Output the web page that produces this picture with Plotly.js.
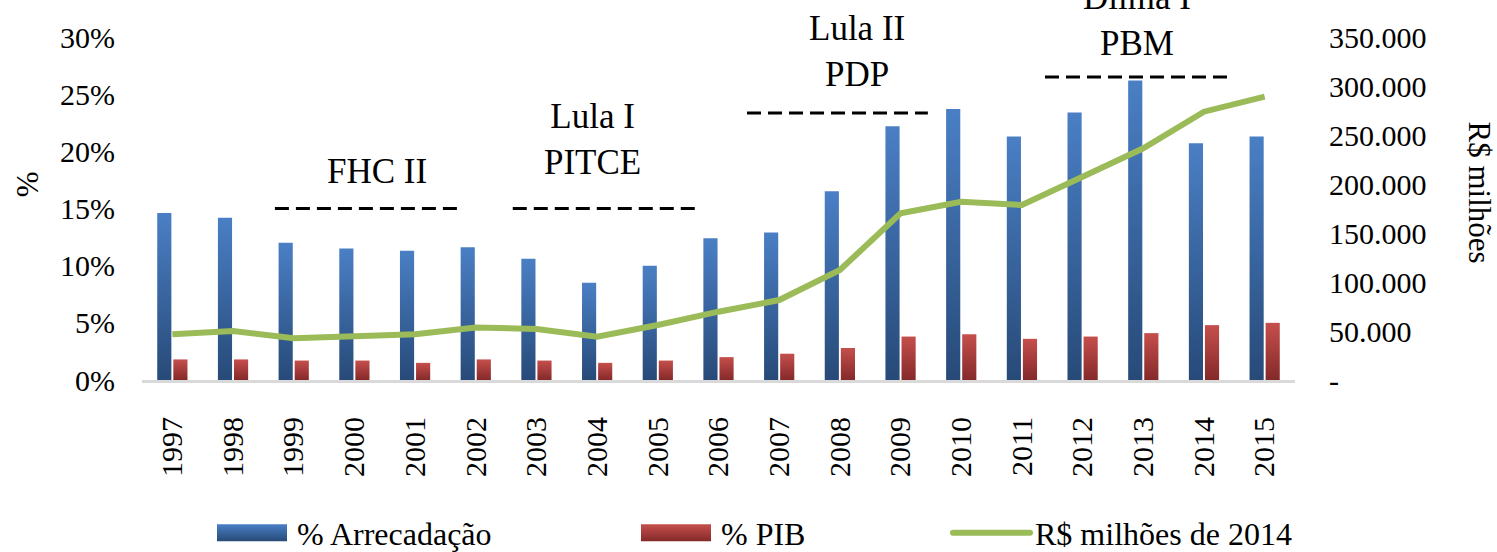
<!DOCTYPE html>
<html>
<head>
<meta charset="utf-8">
<script src="https://cdn.plot.ly/plotly-3.0.1.min.js"></script>
<style>
  html, body { margin: 0; padding: 0; background: #fff; }
  #chart { width: 1497px; height: 552px; }
</style>
</head>
<body>
<div id="chart"></div>
<script>
// ---- data ----
const years = ["1997","1998","1999","2000","2001","2002","2003","2004","2005","2006",
               "2007","2008","2009","2010","2011","2012","2013","2014","2015"];
const pctArrecadacao = [14.6, 14.2, 12.0, 11.5, 11.3, 11.6, 10.6, 8.5, 10.0, 12.4,
                        12.9, 16.5, 22.2, 23.7, 21.3, 23.4, 26.2, 20.7, 21.3];
const pctPIB = [1.8, 1.8, 1.7, 1.7, 1.5, 1.8, 1.7, 1.5, 1.7, 2.0,
                2.3, 2.8, 3.8, 4.0, 3.6, 3.8, 4.1, 4.8, 5.0];
const rsMilhoes = [46600, 50000, 42600, 44200, 46600, 53600, 52000, 44200, 56100, 69700,
                   81600, 112200, 170100, 181900, 178600, 207400, 236400, 273800, 289100];
const leftTicks = [0, 5, 10, 15, 20, 25, 30];
const leftTickText = ["0%", "5%", "10%", "15%", "20%", "25%", "30%"];
const rightTicks = [0, 50000, 100000, 150000, 200000, 250000, 300000, 350000];
const rightTickText = ["-", "50.000", "100.000", "150.000", "200.000", "250.000", "300.000", "350.000"];
// policy periods: label, start/end (category index), level (% axis)
const periodLabels = ["FHC II", "Lula I<br>PITCE", "Lula II<br>PDP", "Dilma I<br>PBM"];
const periodStart = [1.69, 5.61, 9.47, 14.38];
const periodEnd   = [4.69, 8.64, 12.45, 17.39];
const periodLevel = [15.0, 15.0, 23.35, 26.5];
const periodLabelX = [3.37, 6.93, 11.28, 15.9];
const periodLabelY = [18.2, 21.0, 28.7, 31.4];

const FONT = "Liberation Serif";
const PLOT_TOP = 37, PLOT_H = 343;

const traces = [
  { type: "bar", name: "% Arrecadação", x: years, y: pctArrecadacao,
    marker: { color: "#3A67A5" }, yaxis: "y", legend: "legend" },
  { type: "bar", name: "% PIB", x: years, y: pctPIB,
    marker: { color: "#A63C3A" }, yaxis: "y", legend: "legend2" },
  { type: "scatter", mode: "lines", name: "R$ milhões de 2014", x: years, y: rsMilhoes,
    yaxis: "y2", line: { color: "#9BBB59", width: 6 }, legend: "legend3" }
];

const shapes = periodStart.map((s, i) => ({
  type: "line", xref: "x", yref: "y", x0: s, x1: periodEnd[i], y0: periodLevel[i], y1: periodLevel[i],
  line: { color: "#000", width: 3, dash: "14px,7px" }
}));

// labels placed in paper coords (derived from % values) so the top one is not hidden
const annotations = periodLabels.map((t, i) => ({
  text: t, xref: "x", yref: "paper", x: periodLabelX[i], y: periodLabelY[i] / 30,
  showarrow: false, xanchor: "center", yanchor: "middle",
  font: { family: FONT, size: 35, color: "#000" }
}));
annotations.push({
  text: "%", xref: "paper", yref: "paper", x: -0.099, y: 0.57, showarrow: false,
  textangle: -90, xanchor: "center", yanchor: "middle",
  font: { family: FONT, size: 31, color: "#000" }
});
annotations.push({
  text: "R$ milhões", xref: "paper", yref: "paper", x: 1.160, y: 0.545, showarrow: false,
  textangle: 90, xanchor: "center", yanchor: "middle",
  font: { family: FONT, size: 31, color: "#000" }
});

function leg(px, iw) {
  return {
    orientation: "h", xref: "container", yref: "container",
    x: px / 1497, xanchor: "left", y: 1 - 533 / 552, yanchor: "middle",
    itemwidth: iw, bgcolor: "rgba(0,0,0,0)",
    font: { family: FONT, size: 32, color: "#000" }
  };
}

const layout = {
  width: 1497, height: 552,
  margin: { l: 142, r: 202, t: PLOT_TOP, b: 552 - PLOT_TOP - PLOT_H, autoexpand: false },
  paper_bgcolor: "#fff", plot_bgcolor: "#fff",
  font: { family: FONT, size: 30, color: "#000" },
  barmode: "group", bargap: 0.47, bargroupgap: 0.12,
  showlegend: true,
  legend: leg(207, 80),
  legend2: leg(631, 80),
  legend3: leg(943, 82),
  xaxis: {
    type: "category", showgrid: false, zeroline: false,
    showline: true, linecolor: "#d9d9d9", linewidth: 3,
    ticks: "", tickangle: -90, ticklabelstandoff: 22,
    tickfont: { family: FONT, size: 30, color: "#000" }
  },
  yaxis: {
    range: [0, 30], tickmode: "array", tickvals: leftTicks, ticktext: leftTickText,
    showgrid: false, zeroline: false, showline: false, ticks: "", ticklabelstandoff: 26,
    tickfont: { family: FONT, size: 30, color: "#000" }
  },
  yaxis2: {
    overlaying: "y", side: "right", range: [0, 350000], tickmode: "array",
    tickvals: rightTicks, ticktext: rightTickText,
    showgrid: false, zeroline: false, showline: false, ticks: "", ticklabelstandoff: 33,
    tickfont: { family: FONT, size: 30, color: "#000" }
  },
  shapes: shapes,
  annotations: annotations
};

const NS = "http://www.w3.org/2000/svg";
const grads = ["url(#gradBlue)", "url(#gradRed)"];

function ensureGradients(gd) {
  const svg = gd.querySelector(".main-svg");
  let defs = svg.querySelector("defs");
  if (!defs) { defs = document.createElementNS(NS, "defs"); svg.insertBefore(defs, svg.firstChild); }
  function addGrad(id, top, bottom) {
    if (document.getElementById(id)) return;
    const g = document.createElementNS(NS, "linearGradient");
    g.setAttribute("id", id);
    g.setAttribute("x1", "0"); g.setAttribute("y1", "0");
    g.setAttribute("x2", "0"); g.setAttribute("y2", "1");
    const s1 = document.createElementNS(NS, "stop");
    s1.setAttribute("offset", "0"); s1.setAttribute("stop-color", top);
    const s2 = document.createElementNS(NS, "stop");
    s2.setAttribute("offset", "1"); s2.setAttribute("stop-color", bottom);
    g.appendChild(s1); g.appendChild(s2); defs.appendChild(g);
  }
  addGrad("gradBlue", "#4A7FC5", "#274A78");
  addGrad("gradRed", "#C54F4C", "#85292A");
}

function itemIndex(item) {
  let name = "";
  const d = item.__data__;
  if (d && d[0] && d[0].trace && d[0].trace.name) name = d[0].trace.name;
  if (!name) { const t = item.querySelector(".legendtext"); if (t) name = t.textContent || ""; }
  if (name.indexOf("Arrecada") >= 0) return 0;
  if (name.indexOf("PIB") >= 0) return 1;
  if (name.indexOf("milh") >= 0) return 2;
  return -1;
}

function restyleMarks(gd) {
  ensureGradients(gd);
  gd.querySelectorAll(".barlayer .trace.bars").forEach(function (t, i) {
    t.querySelectorAll("path").forEach(function (p) { p.style.fill = grads[i % 2]; });
  });
  // legend swatches: wide gradient rectangles and a long line, as in the original
  gd.querySelectorAll("g.traces").forEach(function (item) {
    const idx = itemIndex(item);
    if (idx === 0 || idx === 1) {
      item.querySelectorAll(".legendpoints path").forEach(function (p) {
        p.setAttribute("d", "M-35,-8.5H35V8.5H-35Z");
        p.style.fill = grads[idx];
        p.style.stroke = "none";
      });
    } else if (idx === 2) {
      item.querySelectorAll(".legendlines path").forEach(function (p) {
        p.setAttribute("d", "M10,0h77");
        p.style.strokeLinecap = "round";
      });
    }
  });
}

Plotly.newPlot("chart", traces, layout, { displayModeBar: false, staticPlot: true }).then(function (gd) {
  restyleMarks(gd);
  gd.on("plotly_afterplot", function () { restyleMarks(gd); });
  let n = 0;
  const timer = setInterval(function () { restyleMarks(gd); if (++n > 20) clearInterval(timer); }, 25);
  requestAnimationFrame(function () { restyleMarks(gd); });
});
</script>
</body>
</html>
